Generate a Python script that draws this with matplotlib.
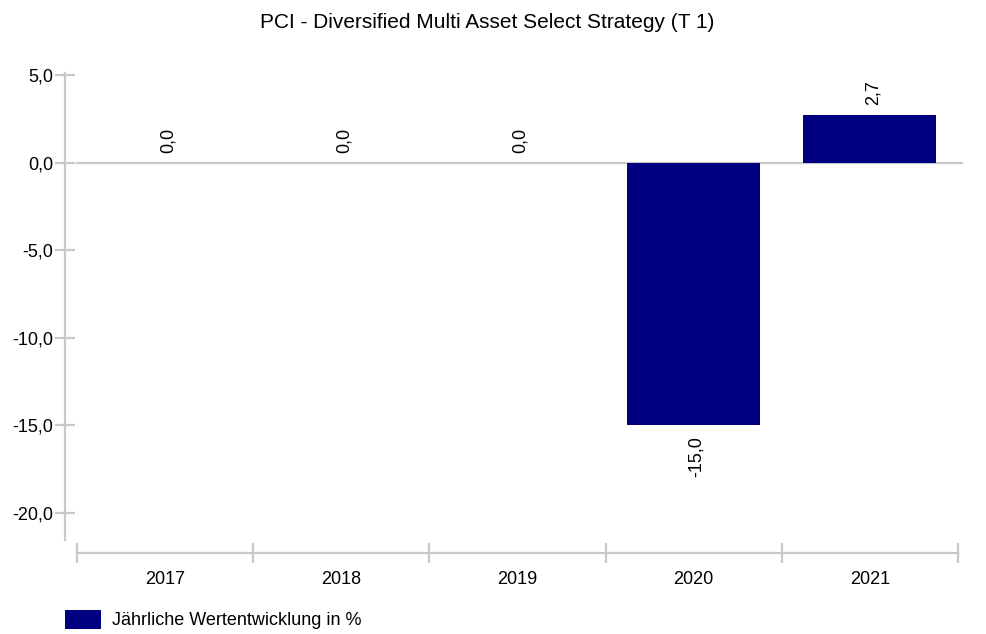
import matplotlib.pyplot as plt
import numpy as np

plt.rcParams['font.family'] = ['Liberation Sans', 'DejaVu Sans']

title = "PCI - Diversified Multi Asset Select Strategy (T 1)"
years = ["2017", "2018", "2019", "2020", "2021"]
values = [0.0, 0.0, 0.0, -15.0, 2.7]
yticks = [5, 0, -5, -10, -15, -20]
legend_label = "Jährliche Wertentwicklung in %"

grey = "#c8c8c8"
navy = "#000080"

fig = plt.figure(figsize=(9.87, 6.34), dpi=100)
ax = fig.add_axes([77 / 987, 1 - 553 / 634, 881 / 987, 480 / 634])

x = np.arange(len(years))
bars = ax.bar(x, values, width=0.755, color=navy, label=legend_label, zorder=3)

ax.set_xlim(-0.5, len(years) - 0.5)
ax.set_ylim(-22.29, 5.11)

# zero line
ax.axhline(0, xmin=0, xmax=1.005, color=grey, lw=1.6, clip_on=False, zorder=2)

# spines
for s in ["top", "right"]:
    ax.spines[s].set_visible(False)
ax.spines["left"].set_position(("outward", 8.6))
ax.spines["left"].set_bounds(-21.55, 5.11)
ax.spines["left"].set_color(grey)
ax.spines["left"].set_linewidth(1.6)
ax.spines["bottom"].set_color(grey)
ax.spines["bottom"].set_linewidth(1.6)

ax.set_yticks(yticks)
ax.set_yticklabels([f"{v:.1f}".replace(".", ",") for v in yticks])
ax.tick_params(axis="y", direction="inout", length=15, width=1.6, color=grey,
               labelsize=13, pad=1)

ax.set_xticks(x)
ax.set_xticklabels(years)
ax.set_xticks(np.arange(len(years) + 1) - 0.5, minor=True)
ax.tick_params(axis="x", which="major", length=0, labelsize=13, pad=13)
ax.tick_params(axis="x", which="minor", direction="inout", length=15, width=1.6,
               color=grey)

# value labels
for xi, v in zip(x, values):
    txt = f"{v:.1f}".replace(".", ",")
    if v >= 0:
        ax.annotate(txt, (xi, v), xytext=(2, 7), textcoords="offset points",
                    rotation=90, ha="center", va="bottom", fontsize=13)
    else:
        ax.annotate(txt, (xi, v), xytext=(2, -8), textcoords="offset points",
                    rotation=90, ha="center", va="top", fontsize=13)

fig.text(487 / 987, 1 - 22 / 634, title, ha="center", va="center", fontsize=15)

fig.legend(loc="upper left", bbox_to_anchor=(65 / 987, 1 - 610 / 634),
           frameon=False, fontsize=13, handlelength=2.0, handleheight=1.2,
           handletextpad=0.6, borderpad=0, borderaxespad=0)

fig.savefig("out.png", dpi=100)
